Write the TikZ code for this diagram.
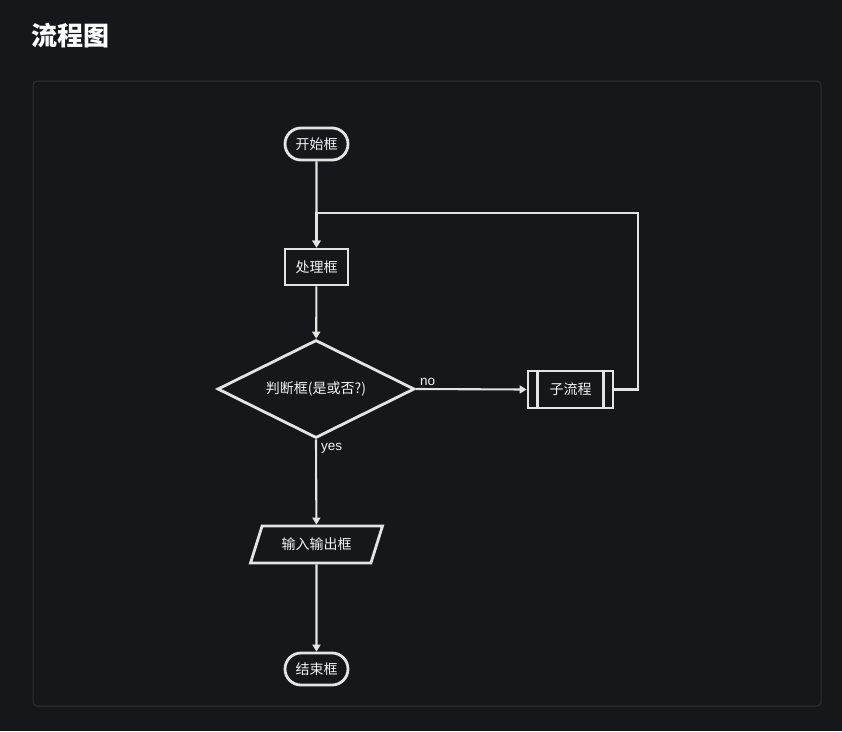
\documentclass[tikz,border=0pt]{standalone}
\usepackage{fontspec}
\setmainfont{Noto Sans CJK SC}
\newfontfamily\latinfont{Liberation Sans}
\usetikzlibrary{arrows.meta,shapes.geometric,shapes.misc}
\definecolor{bg}{HTML}{15171B}
\definecolor{pborder}{HTML}{2E3138}
\definecolor{ln}{HTML}{E4E4E4}
\definecolor{txt}{HTML}{F4F4F4}
\begin{document}
\begin{tikzpicture}[x=1pt,y=-1pt,
  shapebox/.style={draw=ln, line width=2.8pt, text=txt, inner sep=0pt, font=\fontsize{14}{16}\selectfont},
  termbox/.style={shapebox, rounded rectangle, minimum width=63pt, minimum height=32pt},
  procbox/.style={shapebox, rectangle, minimum width=63pt, minimum height=36pt},
  decbox/.style={shapebox, diamond, aspect=2, minimum width=197pt, minimum height=98pt},
  iobox/.style={shapebox, trapezium, trapezium left angle=60, trapezium right angle=120, trapezium stretches=true, minimum width=133pt, minimum height=37pt},
  subbox/.style={shapebox, rectangle, minimum width=85pt, minimum height=37pt},
  conn/.style={draw=ln, line width=2.1pt, -{Triangle[length=7pt,width=8pt]}},
  lbl/.style={text=txt, inner sep=0pt, font=\latinfont\fontsize{13.5}{15}\selectfont}
]
\fill[bg] (0,0) rectangle (842,731);
\useasboundingbox (0,0) rectangle (842,731);
\draw[pborder, rounded corners=4pt, line width=1pt] (33,81) rectangle (821,706);
\node[anchor=west, text=white, inner sep=0pt, font=\bfseries\fontsize{26}{30}\selectfont] (title) at (31,36) {流程图};

\node[termbox] (start) at (316.5,144) {开始框};
\node[procbox] (proc) at (316.5,267) {处理框};
\node[decbox] (dec) at (316,389) {判断框(是或否?)};
\node[subbox] (sub) at (570.5,389.5) {子流程};
\node[iobox] (io) at (316.5,544.5) {输入输出框};
\node[termbox] (endn) at (316.5,669) {结束框};
\draw[ln, line width=2.8pt] ([xshift=11pt]sub.north west) -- ([xshift=11pt]sub.south west);
\draw[ln, line width=2.8pt] ([xshift=-11pt]sub.north east) -- ([xshift=-11pt]sub.south east);

\coordinate (lc) at (316.5,213);
\draw[conn] (start) -- (proc);
\draw[conn] (proc) -- (dec);
\draw[conn] (dec.east) -- (sub.west);
\node[lbl, anchor=south west] (no) at (420,386) {no};
\draw[conn] (dec.south) -- (io);
\node[lbl, anchor=north west] (yes) at (321,443) {yes};
\draw[conn] (io) -- (endn);
\draw[conn] (sub.east) -- ++(24,0) |- (lc) -- (proc.north);
\end{tikzpicture}
\end{document}
